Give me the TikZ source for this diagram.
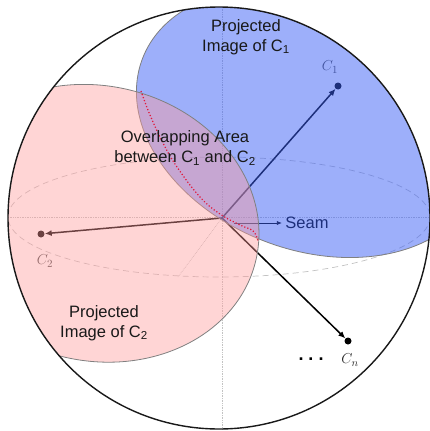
\documentclass[tikz,border=0pt]{standalone}
\usepackage{fontspec}
\setmainfont{Liberation Sans}
\definecolor{capBlue}{RGB}{59,95,245}
\definecolor{capPink}{RGB}{255,155,155}
\definecolor{seamRed}{RGB}{225,25,60}
\definecolor{guideGray}{RGB}{195,195,195}
\usetikzlibrary{arrows.meta}

\begin{document}
\begin{tikzpicture}[x=1pt, y=-1pt,
  dot/.style={circle, fill=black, inner sep=0pt, minimum size=7pt},
  arr/.style={-{Latex[length=7pt, width=6pt]}, line width=1.5pt, black},
  guide/.style={guideGray, line width=0.7pt},
  bluecap/.style={fill=capBlue, fill opacity=0.5, draw=black!50, line width=0.8pt},
  pinkcap/.style={fill=capPink, fill opacity=0.42, draw=black!50, line width=0.8pt},
  txt/.style={font=\fontsize{16.5}{20}\selectfont, align=center, text=black!90},
  clab/.style={font=\fontsize{15}{18}\selectfont, text=black!70}]
  \useasboundingbox (0,0) rectangle (430,431);

  % sphere guides
  \draw[guide, densely dotted] (222,7) -- (222,429);
  \draw[guide, densely dotted] (8,217) -- (430,217);
  \draw[guide, dash pattern=on 6pt off 4pt] (219,217) ellipse (211 and 60);
  \coordinate (O) at (222,218);
  \coordinate (front) at (178,277);
  \draw[guide, densely dotted] (O) -- (front);

  % cameras
  \node[dot] (c1) at (338,86) {};
  \node[dot] (c2) at (41,234) {};
  \node[dot] (cn) at (348,341) {};
  \node[clab] (c1lab) at (330,67) {$C_1$};
  \node[clab] (c2lab) at (45,261) {$C_2$};
  \node[clab, text=black!85] (cnlab) at (350,360) {$C_n$};
  \node[font=\fontsize{18}{18}\selectfont\bfseries, inner sep=0pt] (more) at (311,359) {.\hspace{5pt}.\hspace{5pt}.};
  \draw[arr] (O) -- (c1);
  \draw[arr] (O) -- (c2);
  \draw[arr] (O) -- (cn);

  \node[font=\fontsize{16.5}{20}\selectfont] (seam) at (307,223) {Seam};
  \coordinate (s0) at (234,223);
  \draw[-{Latex[length=5pt, width=4pt]}, line width=0.7pt] (s0) -- (seam.west);

  % projected images
  \begin{scope}
    \clip (219,218) circle (211);
    \path[bluecap, rotate around={-21:(310,122.8)}] (310,122.8) ellipse (179.4 and 126.8);
    \path[pinkcap, rotate around={-12.6:(96.1,223.3)}] (96.1,223.3) ellipse (164 and 137.5);
  \end{scope}
  \draw[line width=1.4pt, black!90] (219,218) circle (211);

  \draw[seamRed, line width=1.2pt, dotted] plot[smooth, tension=0.7] coordinates {(141,91)
    (150,115) (163,143) (177,167) (200,197) (220,214) (240,225) (253,231) (258,241)};

  \node[txt] (img1) at (246,37) {Projected\\Image of C\textsubscript{1}};
  \node[txt] (overlap) at (185,148) {Overlapping Area\\between C\textsubscript{1} and C\textsubscript{2}};
  \node[txt] (img2) at (104,323) {Projected\\Image of C\textsubscript{2}};
\end{tikzpicture}
\end{document}
